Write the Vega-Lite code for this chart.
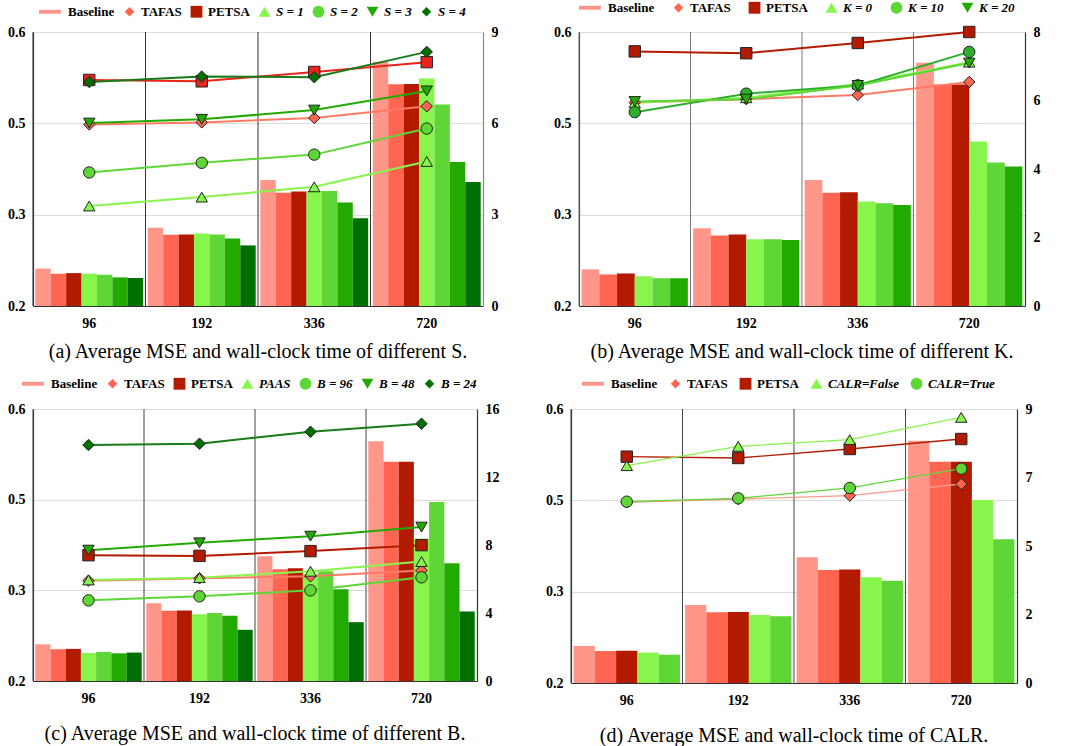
{
  "$schema": "https://vega.github.io/schema/vega-lite/v6.json",
  "background": "white",
  "padding": {"left": 7, "top": 1, "right": 4, "bottom": 2},
  "datasets": {
    "a": [
      {"h": "96", "method": "Baseline", "time": 1.23},
      {"h": "96", "method": "TAFAS", "time": 1.06, "mse": 0.465},
      {"h": "96", "method": "PETSA", "time": 1.08, "mse": 0.530},
      {"h": "96", "method": "S = 1", "time": 1.06, "mse": 0.346},
      {"h": "96", "method": "S = 2", "time": 1.03, "mse": 0.395},
      {"h": "96", "method": "S = 3", "time": 0.94, "mse": 0.467},
      {"h": "96", "method": "S = 4", "time": 0.92, "mse": 0.527},
      {"h": "192", "method": "Baseline", "time": 2.57},
      {"h": "192", "method": "TAFAS", "time": 2.34, "mse": 0.468},
      {"h": "192", "method": "PETSA", "time": 2.35, "mse": 0.528},
      {"h": "192", "method": "S = 1", "time": 2.38, "mse": 0.359},
      {"h": "192", "method": "S = 2", "time": 2.35, "mse": 0.409},
      {"h": "192", "method": "S = 3", "time": 2.22, "mse": 0.4725},
      {"h": "192", "method": "S = 4", "time": 1.99, "mse": 0.535},
      {"h": "336", "method": "Baseline", "time": 4.14},
      {"h": "336", "method": "TAFAS", "time": 3.72, "mse": 0.4745},
      {"h": "336", "method": "PETSA", "time": 3.76, "mse": 0.5416},
      {"h": "336", "method": "S = 1", "time": 3.78, "mse": 0.374},
      {"h": "336", "method": "S = 2", "time": 3.78, "mse": 0.421},
      {"h": "336", "method": "S = 3", "time": 3.40, "mse": 0.486},
      {"h": "336", "method": "S = 4", "time": 2.88, "mse": 0.534},
      {"h": "720", "method": "Baseline", "time": 8.02},
      {"h": "720", "method": "TAFAS", "time": 7.28, "mse": 0.4915},
      {"h": "720", "method": "PETSA", "time": 7.29, "mse": 0.556},
      {"h": "720", "method": "S = 1", "time": 7.47, "mse": 0.411},
      {"h": "720", "method": "S = 2", "time": 6.62, "mse": 0.459},
      {"h": "720", "method": "S = 3", "time": 4.73, "mse": 0.514},
      {"h": "720", "method": "S = 4", "time": 4.07, "mse": 0.571}
    ],
    "b": [
      {"h": "96", "method": "Baseline", "time": 1.07},
      {"h": "96", "method": "TAFAS", "time": 0.92, "mse": 0.497},
      {"h": "96", "method": "PETSA", "time": 0.95, "mse": 0.5717},
      {"h": "96", "method": "K = 0", "time": 0.87, "mse": 0.4966},
      {"h": "96", "method": "K = 10", "time": 0.81, "mse": 0.483},
      {"h": "96", "method": "K = 20", "time": 0.81, "mse": 0.4985},
      {"h": "192", "method": "Baseline", "time": 2.27},
      {"h": "192", "method": "TAFAS", "time": 2.06, "mse": 0.502},
      {"h": "192", "method": "PETSA", "time": 2.09, "mse": 0.569},
      {"h": "192", "method": "K = 0", "time": 1.95, "mse": 0.504},
      {"h": "192", "method": "K = 10", "time": 1.95, "mse": 0.510},
      {"h": "192", "method": "K = 20", "time": 1.93, "mse": 0.502},
      {"h": "336", "method": "Baseline", "time": 3.68},
      {"h": "336", "method": "TAFAS", "time": 3.31, "mse": 0.508},
      {"h": "336", "method": "PETSA", "time": 3.32, "mse": 0.584},
      {"h": "336", "method": "K = 0", "time": 3.05, "mse": 0.524},
      {"h": "336", "method": "K = 10", "time": 3.00, "mse": 0.522},
      {"h": "336", "method": "K = 20", "time": 2.95, "mse": 0.522},
      {"h": "720", "method": "Baseline", "time": 7.10},
      {"h": "720", "method": "TAFAS", "time": 6.47, "mse": 0.527},
      {"h": "720", "method": "PETSA", "time": 6.47, "mse": 0.600},
      {"h": "720", "method": "K = 0", "time": 4.80, "mse": 0.556},
      {"h": "720", "method": "K = 10", "time": 4.19, "mse": 0.571},
      {"h": "720", "method": "K = 20", "time": 4.07, "mse": 0.5546}
    ],
    "c": [
      {"h": "96", "method": "Baseline", "time": 2.16},
      {"h": "96", "method": "TAFAS", "time": 1.87, "mse": 0.3476},
      {"h": "96", "method": "PETSA", "time": 1.89, "mse": 0.385},
      {"h": "96", "method": "PAAS", "time": 1.65, "mse": 0.3486},
      {"h": "96", "method": "B = 96", "time": 1.71, "mse": 0.3186},
      {"h": "96", "method": "B = 48", "time": 1.63, "mse": 0.3924},
      {"h": "96", "method": "B = 24", "time": 1.67, "mse": 0.547},
      {"h": "192", "method": "Baseline", "time": 4.57},
      {"h": "192", "method": "TAFAS", "time": 4.13, "mse": 0.351},
      {"h": "192", "method": "PETSA", "time": 4.15, "mse": 0.384},
      {"h": "192", "method": "PAAS", "time": 3.92, "mse": 0.352},
      {"h": "192", "method": "B = 96", "time": 4.00, "mse": 0.3245},
      {"h": "192", "method": "B = 48", "time": 3.84, "mse": 0.4032},
      {"h": "192", "method": "B = 24", "time": 3.01, "mse": 0.549},
      {"h": "336", "method": "Baseline", "time": 7.34},
      {"h": "336", "method": "TAFAS", "time": 6.57, "mse": 0.354},
      {"h": "336", "method": "PETSA", "time": 6.63, "mse": 0.391},
      {"h": "336", "method": "PAAS", "time": 6.30, "mse": 0.3614},
      {"h": "336", "method": "B = 96", "time": 6.46, "mse": 0.3333},
      {"h": "336", "method": "B = 48", "time": 5.39, "mse": 0.413},
      {"h": "336", "method": "B = 24", "time": 3.46, "mse": 0.5666},
      {"h": "720", "method": "Baseline", "time": 14.11},
      {"h": "720", "method": "TAFAS", "time": 12.89, "mse": 0.3624},
      {"h": "720", "method": "PETSA", "time": 12.89, "mse": 0.3998},
      {"h": "720", "method": "PAAS", "time": 8.37, "mse": 0.3757},
      {"h": "720", "method": "B = 96", "time": 10.53, "mse": 0.3525},
      {"h": "720", "method": "B = 48", "time": 6.93, "mse": 0.4263},
      {"h": "720", "method": "B = 24", "time": 4.09, "mse": 0.5784}
    ],
    "d": [
      {"h": "96", "method": "Baseline", "time": 1.22},
      {"h": "96", "method": "TAFAS", "time": 1.05, "mse": 0.4637},
      {"h": "96", "method": "PETSA", "time": 1.06, "mse": 0.5304},
      {"h": "96", "method": "CALR=False", "time": 1.00, "mse": 0.5173},
      {"h": "96", "method": "CALR=True", "time": 0.93, "mse": 0.4647},
      {"h": "192", "method": "Baseline", "time": 2.56},
      {"h": "192", "method": "TAFAS", "time": 2.32, "mse": 0.4686},
      {"h": "192", "method": "PETSA", "time": 2.33, "mse": 0.5285},
      {"h": "192", "method": "CALR=False", "time": 2.23, "mse": 0.5455},
      {"h": "192", "method": "CALR=True", "time": 2.19, "mse": 0.4696},
      {"h": "336", "method": "Baseline", "time": 4.13},
      {"h": "336", "method": "TAFAS", "time": 3.71, "mse": 0.4735},
      {"h": "336", "method": "PETSA", "time": 3.73, "mse": 0.5416},
      {"h": "336", "method": "CALR=False", "time": 3.47, "mse": 0.5552},
      {"h": "336", "method": "CALR=True", "time": 3.36, "mse": 0.4847},
      {"h": "720", "method": "Baseline", "time": 7.96},
      {"h": "720", "method": "TAFAS", "time": 7.27, "mse": 0.4905},
      {"h": "720", "method": "PETSA", "time": 7.27, "mse": 0.5562},
      {"h": "720", "method": "CALR=False", "time": 6.01, "mse": 0.5878},
      {"h": "720", "method": "CALR=True", "time": 4.72, "mse": 0.5129}
    ]
  },
  "vconcat": [
    {
      "hconcat": [
        {
          "width": 450, "height": 274,
          "data": {"name": "a"},
          "title": "(a) Average MSE and wall-clock time of different S.",
          "layer": [
            {
              "mark": {"type": "bar"},
              "encoding": {
                "x": {"field": "h", "type": "ordinal", "scale": {"domain": ["96", "192", "336", "720"], "paddingInner": 0, "paddingOuter": 0}, "axis": {"labelAngle": 0, "labelPadding": 10, "title": null, "ticks": false}},
                "xOffset": {"field": "method", "type": "nominal", "scale": {"domain": ["Baseline", "TAFAS", "PETSA", "S = 1", "S = 2", "S = 3", "S = 4"], "paddingInner": 0, "paddingOuter": 0.15}},
                "y": {"field": "time", "type": "quantitative", "scale": {"domain": [0, 9], "nice": false, "zero": true}, "axis": {"orient": "right", "values": [0, 3, 6, 9], "format": ".0f", "grid": false, "title": null, "domainColor": "#888"}},
                "color": {
                  "field": "method", "type": "nominal",
                  "scale": {"domain": ["Baseline", "TAFAS", "PETSA", "S = 1", "S = 2", "S = 3", "S = 4"], "range": ["#FF968A", "#FF6550", "#B31B00", "#88F54C", "#5ED636", "#22AA00", "#007000"]},
                  "legend": {
                    "columnPadding": 8, "offset": 13,
                    "encode": {
                      "symbols": {"update": {
                        "shape": {"signal": "datum.value=='Baseline'?'M-1.6,-0.18H0.4V0.18H-1.6Z':(datum.value=='TAFAS'||datum.value=='S = 4')?'diamond':datum.value=='PETSA'?'square':datum.value=='S = 1'?'triangle-up':datum.value=='S = 2'?'circle':'triangle-down'"},
                        "size": {"signal": "datum.value=='Baseline'?480:(datum.value=='TAFAS'||datum.value=='S = 4')?90:140"},
                        "strokeWidth": {"value": 0}
                      }},
                      "labels": {"update": {
                        "fontStyle": {"signal": "(datum.value=='Baseline'||datum.value=='TAFAS'||datum.value=='PETSA')?'normal':'italic'"}
                      }}
                    }
                  }
                }
              }
            },
            {
              "mark": {"type": "rule", "color": "#333", "strokeWidth": 1},
              "transform": [{"filter": "datum.method=='Baseline'"}],
              "encoding": {"x": {"field": "h", "type": "ordinal", "bandPosition": 0}}
            },
            {
              "transform": [{"filter": "isValid(datum.mse)"}],
              "layer": [
                {
                  "mark": {"type": "line", "strokeWidth": 2},
                  "encoding": {
                    "x": {"field": "h", "type": "ordinal"},
                    "y": {"field": "mse", "type": "quantitative", "scale": {"domain": [0.2, 0.6], "nice": false, "zero": false}, "axis": {"orient": "left", "values": [0.2, 0.3333, 0.4667, 0.6], "format": ".1f", "grid": true, "title": null}},
                    "stroke": {"field": "method", "type": "nominal", "scale": {"domain": ["TAFAS", "PETSA", "S = 1", "S = 2", "S = 3", "S = 4"], "range": ["#FF7A66", "#E8231A", "#88F54C", "#5ED636", "#22AA00", "#1A7A1A"]}, "legend": null}
                  }
                },
                {
                  "mark": {"type": "point", "filled": true, "stroke": "#222", "strokeWidth": 1, "opacity": 1, "size": 130},
                  "encoding": {
                    "x": {"field": "h", "type": "ordinal"},
                    "y": {"field": "mse", "type": "quantitative"},
                    "fill": {"field": "method", "type": "nominal", "scale": {"domain": ["TAFAS", "PETSA", "S = 1", "S = 2", "S = 3", "S = 4"], "range": ["#FF6550", "#E8231A", "#88F54C", "#5ED636", "#22AA00", "#007000"]}, "legend": null},
                    "shape": {"field": "method", "type": "nominal", "scale": {"domain": ["TAFAS", "PETSA", "S = 1", "S = 2", "S = 3", "S = 4"], "range": ["diamond", "square", "triangle-up", "circle", "triangle-down", "diamond"]}, "legend": null}
                  }
                }
              ]
            }
          ],
          "resolve": {"scale": {"y": "independent"}}
        },
        {
          "width": 446, "height": 274,
          "data": {"name": "b"},
          "title": "(b) Average MSE and wall-clock time of different K.",
          "layer": [
            {
              "mark": {"type": "bar"},
              "encoding": {
                "x": {"field": "h", "type": "ordinal", "scale": {"domain": ["96", "192", "336", "720"], "paddingInner": 0, "paddingOuter": 0}, "axis": {"labelAngle": 0, "labelPadding": 10, "title": null, "ticks": false}},
                "xOffset": {"field": "method", "type": "nominal", "scale": {"domain": ["Baseline", "TAFAS", "PETSA", "K = 0", "K = 10", "K = 20"], "paddingInner": 0, "paddingOuter": 0.15}},
                "y": {"field": "time", "type": "quantitative", "scale": {"domain": [0, 8], "nice": false, "zero": true}, "axis": {"orient": "right", "values": [0, 2, 4, 6, 8], "format": ".0f", "grid": false, "title": null}},
                "color": {
                  "field": "method", "type": "nominal",
                  "scale": {"domain": ["Baseline", "TAFAS", "PETSA", "K = 0", "K = 10", "K = 20"], "range": ["#FF968A", "#FF6550", "#B31B00", "#88F54C", "#5ED636", "#22AA00"]},
                  "legend": {
                    "columnPadding": 17, "offset": 13,
                    "encode": {
                      "symbols": {"update": {
                        "shape": {"signal": "datum.value=='Baseline'?'M-1.6,-0.18H0.4V0.18H-1.6Z':datum.value=='TAFAS'?'diamond':datum.value=='PETSA'?'square':datum.value=='K = 0'?'triangle-up':datum.value=='K = 10'?'circle':'triangle-down'"},
                        "size": {"signal": "datum.value=='Baseline'?480:datum.value=='TAFAS'?90:140"},
                        "strokeWidth": {"value": 0}
                      }},
                      "labels": {"update": {
                        "fontStyle": {"signal": "(datum.value=='Baseline'||datum.value=='TAFAS'||datum.value=='PETSA')?'normal':'italic'"}
                      }}
                    }
                  }
                }
              }
            },
            {
              "mark": {"type": "rule", "color": "#777", "strokeWidth": 1},
              "transform": [{"filter": "datum.method=='Baseline'"}],
              "encoding": {"x": {"field": "h", "type": "ordinal", "bandPosition": 0}}
            },
            {
              "transform": [{"filter": "isValid(datum.mse)"}],
              "layer": [
                {
                  "mark": {"type": "line", "strokeWidth": 2},
                  "encoding": {
                    "x": {"field": "h", "type": "ordinal"},
                    "y": {"field": "mse", "type": "quantitative", "scale": {"domain": [0.2, 0.6], "nice": false, "zero": false}, "axis": {"orient": "left", "values": [0.2, 0.3333, 0.4667, 0.6], "format": ".1f", "grid": true, "title": null}},
                    "stroke": {"field": "method", "type": "nominal", "scale": {"domain": ["TAFAS", "PETSA", "K = 0", "K = 10", "K = 20"], "range": ["#FF7A66", "#B31B00", "#88F54C", "#2DAF2D", "#5ED636"]}, "legend": null}
                  }
                },
                {
                  "mark": {"type": "point", "filled": true, "stroke": "#222", "strokeWidth": 1, "opacity": 1, "size": 130},
                  "encoding": {
                    "x": {"field": "h", "type": "ordinal"},
                    "y": {"field": "mse", "type": "quantitative"},
                    "fill": {"field": "method", "type": "nominal", "scale": {"domain": ["TAFAS", "PETSA", "K = 0", "K = 10", "K = 20"], "range": ["#FF6550", "#B31B00", "#88F54C", "#2DAF2D", "#22AA00"]}, "legend": null},
                    "shape": {"field": "method", "type": "nominal", "scale": {"domain": ["TAFAS", "PETSA", "K = 0", "K = 10", "K = 20"], "range": ["diamond", "square", "triangle-up", "circle", "triangle-down"]}, "legend": null}
                  }
                }
              ]
            }
          ],
          "resolve": {"scale": {"y": "independent"}}
        }
      ],
      "spacing": 55,
      "resolve": {"scale": {"x": "independent", "y": "independent", "xOffset": "independent", "color": "independent", "fill": "independent", "stroke": "independent", "shape": "independent"}, "legend": {"color": "independent"}}
    },
    {
      "hconcat": [
        {
          "width": 444, "height": 272,
          "data": {"name": "c"},
          "title": {"text": "(c) Average MSE and wall-clock time of different B.", "offset": 19},
          "layer": [
            {
              "mark": {"type": "bar"},
              "encoding": {
                "x": {"field": "h", "type": "ordinal", "scale": {"domain": ["96", "192", "336", "720"], "paddingInner": 0, "paddingOuter": 0}, "axis": {"labelAngle": 0, "labelPadding": 10, "title": null, "ticks": false}},
                "xOffset": {"field": "method", "type": "nominal", "scale": {"domain": ["Baseline", "TAFAS", "PETSA", "PAAS", "B = 96", "B = 48", "B = 24"], "paddingInner": 0, "paddingOuter": 0.15}},
                "y": {"field": "time", "type": "quantitative", "scale": {"domain": [0, 16], "nice": false, "zero": true}, "axis": {"orient": "right", "values": [0, 4, 8, 12, 16], "format": ".0f", "grid": false, "title": null}},
                "color": {
                  "field": "method", "type": "nominal",
                  "scale": {"domain": ["Baseline", "TAFAS", "PETSA", "PAAS", "B = 96", "B = 48", "B = 24"], "range": ["#FF968A", "#FF6550", "#B31B00", "#88F54C", "#5ED636", "#22AA00", "#007000"]},
                  "legend": {
                    "columnPadding": 8, "offset": 18,
                    "encode": {
                      "symbols": {"update": {
                        "shape": {"signal": "datum.value=='Baseline'?'M-1.6,-0.18H0.4V0.18H-1.6Z':(datum.value=='TAFAS'||datum.value=='B = 24')?'diamond':datum.value=='PETSA'?'square':datum.value=='PAAS'?'triangle-up':datum.value=='B = 96'?'circle':'triangle-down'"},
                        "size": {"signal": "datum.value=='Baseline'?480:(datum.value=='TAFAS'||datum.value=='B = 24')?90:140"},
                        "strokeWidth": {"value": 0}
                      }},
                      "labels": {"update": {
                        "fontStyle": {"signal": "(datum.value=='Baseline'||datum.value=='TAFAS'||datum.value=='PETSA')?'normal':'italic'"}
                      }}
                    }
                  }
                }
              }
            },
            {
              "mark": {"type": "rule", "color": "#444", "strokeWidth": 1},
              "transform": [{"filter": "datum.method=='Baseline'"}],
              "encoding": {"x": {"field": "h", "type": "ordinal", "bandPosition": 0}}
            },
            {
              "transform": [{"filter": "isValid(datum.mse)"}],
              "layer": [
                {
                  "mark": {"type": "line", "strokeWidth": 2},
                  "encoding": {
                    "x": {"field": "h", "type": "ordinal"},
                    "y": {"field": "mse", "type": "quantitative", "scale": {"domain": [0.2, 0.6], "nice": false, "zero": false}, "axis": {"orient": "left", "values": [0.2, 0.3333, 0.4667, 0.6], "format": ".1f", "grid": true, "title": null}},
                    "stroke": {"field": "method", "type": "nominal", "scale": {"domain": ["TAFAS", "PETSA", "PAAS", "B = 96", "B = 48", "B = 24"], "range": ["#FF7A66", "#B31B00", "#88F54C", "#5ED636", "#22AA00", "#1A7A1A"]}, "legend": null}
                  }
                },
                {
                  "mark": {"type": "point", "filled": true, "stroke": "#222", "strokeWidth": 1, "opacity": 1, "size": 130},
                  "encoding": {
                    "x": {"field": "h", "type": "ordinal"},
                    "y": {"field": "mse", "type": "quantitative"},
                    "fill": {"field": "method", "type": "nominal", "scale": {"domain": ["TAFAS", "PETSA", "PAAS", "B = 96", "B = 48", "B = 24"], "range": ["#FF6550", "#B31B00", "#88F54C", "#5ED636", "#22AA00", "#007000"]}, "legend": null},
                    "shape": {"field": "method", "type": "nominal", "scale": {"domain": ["TAFAS", "PETSA", "PAAS", "B = 96", "B = 48", "B = 24"], "range": ["diamond", "square", "triangle-up", "circle", "triangle-down", "diamond"]}, "legend": null}
                  }
                }
              ]
            }
          ],
          "resolve": {"scale": {"y": "independent"}}
        },
        {
          "width": 446, "height": 274,
          "data": {"name": "d"},
          "title": {"text": "(d) Average MSE and wall-clock time of CALR.", "offset": 19},
          "layer": [
            {
              "mark": {"type": "bar"},
              "encoding": {
                "x": {"field": "h", "type": "ordinal", "scale": {"domain": ["96", "192", "336", "720"], "paddingInner": 0, "paddingOuter": 0}, "axis": {"labelAngle": 0, "labelPadding": 10, "title": null, "ticks": false}},
                "xOffset": {"field": "method", "type": "nominal", "scale": {"domain": ["Baseline", "TAFAS", "PETSA", "CALR=False", "CALR=True"], "paddingInner": 0, "paddingOuter": 0.12}},
                "y": {"field": "time", "type": "quantitative", "scale": {"domain": [0, 9], "nice": false, "zero": true}, "axis": {"orient": "right", "values": [0, 2.25, 4.5, 6.75, 9], "format": ".0f", "grid": false, "title": null}},
                "color": {
                  "field": "method", "type": "nominal",
                  "scale": {"domain": ["Baseline", "TAFAS", "PETSA", "CALR=False", "CALR=True"], "range": ["#FF968A", "#FF6550", "#B31B00", "#88F54C", "#5ED636"]},
                  "legend": {
                    "columnPadding": 11, "offset": 18,
                    "encode": {
                      "symbols": {"update": {
                        "shape": {"signal": "datum.value=='Baseline'?'M-1.6,-0.18H0.4V0.18H-1.6Z':datum.value=='TAFAS'?'diamond':datum.value=='PETSA'?'square':datum.value=='CALR=False'?'triangle-up':'circle'"},
                        "size": {"signal": "datum.value=='Baseline'?480:datum.value=='TAFAS'?90:140"},
                        "strokeWidth": {"value": 0}
                      }},
                      "labels": {"update": {
                        "fontStyle": {"signal": "(datum.value=='Baseline'||datum.value=='TAFAS'||datum.value=='PETSA')?'normal':'italic'"}
                      }}
                    }
                  }
                }
              }
            },
            {
              "mark": {"type": "rule", "color": "#444", "strokeWidth": 1},
              "transform": [{"filter": "datum.method=='Baseline'"}],
              "encoding": {"x": {"field": "h", "type": "ordinal", "bandPosition": 0}}
            },
            {
              "transform": [{"filter": "isValid(datum.mse)"}],
              "layer": [
                {
                  "mark": {"type": "line", "strokeWidth": 1.3},
                  "encoding": {
                    "x": {"field": "h", "type": "ordinal"},
                    "y": {"field": "mse", "type": "quantitative", "scale": {"domain": [0.2, 0.6], "nice": false, "zero": false}, "axis": {"orient": "left", "values": [0.2, 0.3333, 0.4667, 0.6], "format": ".1f", "grid": true, "title": null}},
                    "stroke": {"field": "method", "type": "nominal", "scale": {"domain": ["TAFAS", "PETSA", "CALR=False", "CALR=True"], "range": ["#FF9A8A", "#B31B00", "#88F54C", "#5ED636"]}, "legend": null}
                  }
                },
                {
                  "mark": {"type": "point", "filled": true, "stroke": "#222", "strokeWidth": 1, "opacity": 1, "size": 130},
                  "encoding": {
                    "x": {"field": "h", "type": "ordinal"},
                    "y": {"field": "mse", "type": "quantitative"},
                    "fill": {"field": "method", "type": "nominal", "scale": {"domain": ["TAFAS", "PETSA", "CALR=False", "CALR=True"], "range": ["#FF6550", "#B31B00", "#88F54C", "#5ED636"]}, "legend": null},
                    "shape": {"field": "method", "type": "nominal", "scale": {"domain": ["TAFAS", "PETSA", "CALR=False", "CALR=True"], "range": ["diamond", "square", "triangle-up", "circle"]}, "legend": null}
                  }
                }
              ]
            }
          ],
          "resolve": {"scale": {"y": "independent"}}
        }
      ],
      "spacing": 46,
      "resolve": {"scale": {"x": "independent", "y": "independent", "xOffset": "independent", "color": "independent", "fill": "independent", "stroke": "independent", "shape": "independent"}, "legend": {"color": "independent"}}
    }
  ],
  "spacing": 15,
  "resolve": {"scale": {"x": "independent", "y": "independent", "xOffset": "independent", "color": "independent", "fill": "independent", "stroke": "independent", "shape": "independent"}, "legend": {"color": "independent"}},
  "config": {
    "view": {"stroke": null},
    "font": "Liberation Serif",
    "axis": {"labelFont": "Liberation Serif", "labelFontWeight": "bold", "labelFontSize": 14, "labelColor": "black", "ticks": false, "domainColor": "#333", "domainWidth": 1.2, "gridColor": "#dddddd", "labelPadding": 8},
    "legend": {"orient": "top", "direction": "horizontal", "title": null, "labelFont": "Liberation Serif", "labelFontWeight": "bold", "labelFontSize": 13, "labelColor": "black", "symbolSize": 400, "labelOffset": 5, "offset": 13, "layout": {"top": {"anchor": "middle"}}},
    "title": {"font": "Liberation Serif", "fontSize": 20, "fontWeight": "normal", "orient": "bottom", "anchor": "middle", "offset": 12, "color": "black"}
  }
}
